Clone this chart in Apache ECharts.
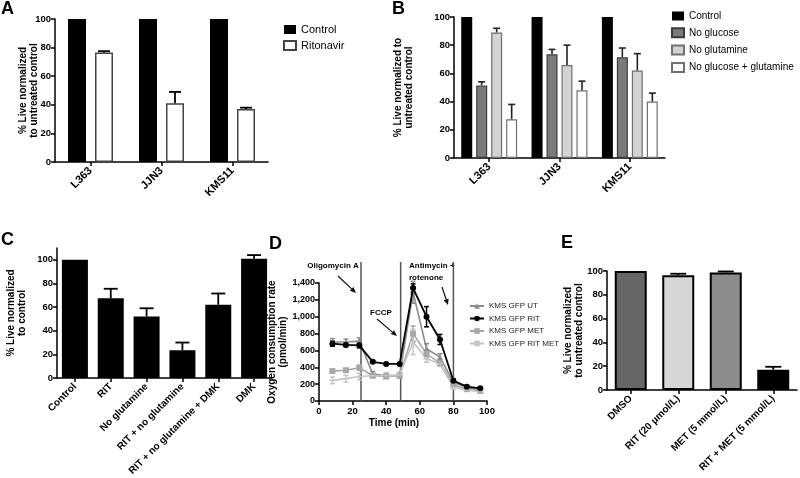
<!DOCTYPE html>
<html><head><meta charset="utf-8">
<script src="https://cdn.jsdelivr.net/npm/echarts@6/dist/echarts.min.js"></script>
<style>html,body{margin:0;padding:0;background:#fff}#c{width:800px;height:478px}</style>
</head><body><div id="c"></div>
<script>
const FONT = "'Liberation Sans', Arial, Helvetica, sans-serif";

// ---------- Panel A ----------
const aCategories = ['L363', 'JJN3', 'KMS11'];
const aControl = [100, 100, 100];
const aRitonavir = [76.5, 41, 37];
const aRitonavirErr = [1, 8, 1];

// ---------- Panel B ----------
const bCategories = ['L363', 'JJN3', 'KMS11'];
const bControl = [100, 100, 100];
const bNoGlucose = [51.5, 73.5, 71.5];
const bNoGlucoseErr = [2.5, 3.5, 6.5];
const bNoGlutamine = [89, 66, 62];
const bNoGlutamineErr = [3, 14, 12];
const bNoBoth = [27.5, 48, 40];
const bNoBothErr = [10.5, 6.5, 6];

// ---------- Panel C ----------
const cCategories = ['Control', 'RIT', 'No glutamine', 'RIT + no glutamine', 'RIT + no glutamine + DMK', 'DMK'];
const cValues = [100, 67.5, 52, 23.5, 62, 101];
const cErr = [0, 8, 7, 6.5, 9.5, 3];

// ---------- Panel D ----------
const dTime = [8, 16, 24, 32, 40, 48, 56, 64, 72, 80, 88, 96];
const dUT = [700, 700, 710, 320, 300, 305, 1290, 620, 520, 220, 160, 130];
const dUTErr = [40, 35, 40, 30, 30, 30, 130, 60, 40, 30, 20, 20];
const dRIT = [680, 665, 660, 465, 440, 440, 1340, 1000, 730, 240, 170, 150];
const dRITErr = [30, 20, 30, 15, 15, 15, 50, 120, 60, 20, 15, 15];
const dMET = [355, 365, 395, 300, 290, 300, 800, 560, 450, 190, 140, 120];
const dMETErr = [20, 20, 30, 20, 20, 20, 90, 40, 30, 20, 15, 15];
const dRITMET = [245, 265, 290, 300, 300, 310, 700, 500, 440, 160, 130, 110];
const dRITMETErr = [40, 40, 40, 20, 30, 30, 150, 40, 30, 20, 15, 15];
const dInjections = [25, 48.6, 80];
const dYTicks = [0, 200, 400, 600, 800, 1000, 1200, 1400];

// ---------- Panel E ----------
const eCategories = ['DMSO', 'RIT (20 \u03bcmol/L)', 'MET (5 mmol/L)', 'RIT + MET (5 mmol/L)'];
const eValues = [100, 96.5, 98.8, 17];
const eErr = [0, 1.2, 0.8, 2.5];
const eColors = ['#666666', '#d6d6d6', '#8c8c8c', '#000000'];

// ---------- helpers ----------
const axisLineStyle = { show: true, lineStyle: { color: '#000', width: 1.5 } };
const tickStyle = { show: true, length: 4, lineStyle: { color: '#000', width: 1.5 } };
const lbl = (size) => ({ color: '#000', fontWeight: 'bold', fontSize: size, fontFamily: FONT });

function catX(gridIndex, cats, rotate, size) {
  return {
    type: 'category', gridIndex, data: cats, boundaryGap: true,
    axisLine: axisLineStyle,
    axisTick: Object.assign({ alignWithLabel: true }, tickStyle),
    axisLabel: Object.assign({ interval: 0, rotate: rotate, margin: 7 }, lbl(size)),
    splitLine: { show: false }
  };
}
function valY(gridIndex, max, ticks, name, gap) {
  return {
    type: 'value', gridIndex, min: 0, max: max,
    axisLine: axisLineStyle, axisTick: Object.assign({ customValues: ticks }, tickStyle),
    axisLabel: Object.assign({ customValues: ticks, margin: 4 }, lbl(9.5)),
    splitLine: { show: false },
    name: name, nameLocation: 'middle', nameGap: gap, nameRotate: 90, nameMoveOverlap: false,
    nameTextStyle: Object.assign({ lineHeight: 10.5 }, lbl(10))
  };
}
function barErr(axisIdx, vals, errs, offset, cap, color, lw) {
  return {
    type: 'custom', xAxisIndex: axisIdx, yAxisIndex: axisIdx, z: 10, silent: true,
    data: vals.map((v, i) => [i, v, errs[i]]),
    renderItem(p, api) {
      const i = api.value(0), v = api.value(1), e = api.value(2);
      if (!e) return null;
      const a = api.coord([i, v]), b = api.coord([i, v + e]);
      const x = a[0] + offset;
      const st = { stroke: color, lineWidth: lw };
      return { type: 'group', children: [
        { type: 'line', shape: { x1: x, y1: a[1], x2: x, y2: b[1] }, style: st },
        { type: 'line', shape: { x1: x - cap / 2, y1: b[1], x2: x + cap / 2, y2: b[1] }, style: st }
      ] };
    }
  };
}
function lineErr(axisIdx, xs, vals, errs, color) {
  return {
    type: 'custom', xAxisIndex: axisIdx, yAxisIndex: axisIdx, z: 3, silent: true,
    data: vals.map((v, i) => [xs[i], v, errs[i]]),
    renderItem(p, api) {
      const t = api.value(0), v = api.value(1), e = api.value(2);
      const a = api.coord([t, v - e]), b = api.coord([t, v + e]);
      const x = a[0], cap = 5;
      const st = { stroke: color, lineWidth: 1.5 };
      return { type: 'group', children: [
        { type: 'line', shape: { x1: x, y1: a[1], x2: x, y2: b[1] }, style: st },
        { type: 'line', shape: { x1: x - cap / 2, y1: b[1], x2: x + cap / 2, y2: b[1] }, style: st },
        { type: 'line', shape: { x1: x - cap / 2, y1: a[1], x2: x + cap / 2, y2: a[1] }, style: st }
      ] };
    }
  };
}
function arrow(x1, y1, x2, y2) {
  const ang = Math.atan2(y2 - y1, x2 - x1), L = 6, W = 2.6;
  const bx = x2 - L * Math.cos(ang), by = y2 - L * Math.sin(ang);
  const px = -Math.sin(ang) * W, py = Math.cos(ang) * W;
  return { type: 'group', children: [
    { type: 'line', shape: { x1, y1, x2: bx, y2: by }, style: { stroke: '#111', lineWidth: 1.2 } },
    { type: 'polygon', shape: { points: [[x2, y2], [bx + px, by + py], [bx - px, by - py]] }, style: { fill: '#111' } }
  ] };
}
function txt(x, y, s, size, weight, extra) {
  return { type: 'text', x, y, style: Object.assign({ text: s, fill: '#000', font: `${weight} ${size}px ${FONT}` }, extra || {}) };
}

const pctTicks = [0, 20, 40, 60, 80, 100];

const option = {
  animation: false,
  backgroundColor: '#fff',
  textStyle: { fontFamily: FONT },
  grid: [
    { left: 55, top: 19, width: 213, height: 143, outerBoundsMode: 'none' },   // A
    { left: 454, top: 17, width: 211, height: 141, outerBoundsMode: 'none' },  // B
    { left: 57, top: 248, width: 215, height: 130, outerBoundsMode: 'none' },  // C
    { left: 319, top: 283, width: 168, height: 118, outerBoundsMode: 'none' }, // D
    { left: 319, top: 262, width: 168, height: 139, outerBoundsMode: 'none' }, // D overlay
    { left: 607, top: 271, width: 190, height: 119, outerBoundsMode: 'none' }  // E
  ],
  xAxis: [
    catX(0, aCategories, 45, 11),
    catX(1, bCategories, 45, 11),
    catX(2, cCategories, 45, 10),
    {
      type: 'value', gridIndex: 3, min: 0, max: 100, interval: 20,
      axisLine: axisLineStyle, axisTick: tickStyle, axisLabel: Object.assign({ margin: 5 }, lbl(9.5)),
      splitLine: { show: false },
      name: 'Time (min)', nameLocation: 'middle', nameGap: 17, nameMoveOverlap: false,
      nameTextStyle: Object.assign({ padding: [0, 18, 0, 0] }, lbl(10))
    },
    { type: 'value', gridIndex: 4, min: 0, max: 100, show: false },
    catX(5, eCategories, 45, 10)
  ],
  yAxis: [
    valY(0, 100, pctTicks, '% Live normalized\nto untreated control', 16),
    valY(1, 100, pctTicks, '% Live normalized to\nuntreated control', 40),
    valY(2, 110, pctTicks, '% Live normalized\nto control', 30),
    Object.assign(valY(3, 1400, dYTicks, 'Oxygen consumption rate\n(pmol/min)', 31), {
      axisLabel: Object.assign({ customValues: dYTicks, margin: 4, formatter: v => v.toLocaleString('en-US') }, lbl(9))
    }),
    { type: 'value', gridIndex: 4, min: 0, max: 1, show: false },
    valY(5, 100, pctTicks, '% Live normalized\nto untreated control', 23)
  ],
  legend: [
    {
      left: 283, top: 24, padding: 0, orient: 'vertical', itemWidth: 12, itemHeight: 9, itemGap: 5, icon: 'rect',
      textStyle: { fontSize: 11, fontFamily: FONT, color: '#000' },
      data: ['Control', 'Ritonavir'], selectedMode: false
    },
    {
      left: 671, top: 11, padding: 0, orient: 'vertical', itemWidth: 12, itemHeight: 9, itemGap: 6.3, icon: 'rect',
      textStyle: { fontSize: 10, fontFamily: FONT, color: '#000' },
      data: ['Control', 'No glucose', 'No glutamine', 'No glucose + glutamine'], selectedMode: false
    },
    {
      left: 469, top: 302, padding: 0, orient: 'vertical', itemWidth: 14, itemHeight: 7, itemGap: 4.5,
      textStyle: { fontSize: 8, fontFamily: FONT, color: '#222', lineHeight: 8 },
      data: ['KMS GFP UT', 'KMS GFP RIT', 'KMS GFP MET', 'KMS GFP RIT MET'], selectedMode: false
    }
  ],
  series: [
    // A
    { type: 'bar', name: 'Control', xAxisIndex: 0, yAxisIndex: 0, data: aControl, barWidth: 18, barGap: '50%',
      itemStyle: { color: '#000' } },
    { type: 'bar', name: 'Ritonavir', xAxisIndex: 0, yAxisIndex: 0, data: aRitonavir, barWidth: 18, barGap: '50%',
      itemStyle: { color: '#fff', borderColor: '#444', borderWidth: 1.5 } },
    barErr(0, aRitonavir, aRitonavirErr, 13.5, 12, '#000', 1.8),
    // B
    { type: 'bar', name: 'Control', xAxisIndex: 1, yAxisIndex: 1, data: bControl, barWidth: 11, barGap: '36%',
      itemStyle: { color: '#000' } },
    { type: 'bar', name: 'No glucose', xAxisIndex: 1, yAxisIndex: 1, data: bNoGlucose, barWidth: 11, barGap: '36%',
      itemStyle: { color: '#7a7a7a', borderColor: '#3c3c3c', borderWidth: 1.2 } },
    { type: 'bar', name: 'No glutamine', xAxisIndex: 1, yAxisIndex: 1, data: bNoGlutamine, barWidth: 11, barGap: '36%',
      itemStyle: { color: '#d3d3d3', borderColor: '#707070', borderWidth: 1.2 } },
    { type: 'bar', name: 'No glucose + glutamine', xAxisIndex: 1, yAxisIndex: 1, data: bNoBoth, barWidth: 11, barGap: '36%',
      itemStyle: { color: '#fff', borderColor: '#707070', borderWidth: 1.2 } },
    barErr(1, bNoGlucose, bNoGlucoseErr, -7.5, 7, '#222', 1.6),
    barErr(1, bNoGlutamine, bNoGlutamineErr, 7.5, 7, '#222', 1.6),
    barErr(1, bNoBoth, bNoBothErr, 22.5, 7, '#222', 1.6),
    // C
    { type: 'bar', name: 'C', xAxisIndex: 2, yAxisIndex: 2, data: cValues, barWidth: 26,
      itemStyle: { color: '#000' } },
    barErr(2, cValues, cErr, 0, 14, '#000', 1.8),
    // D
    { type: 'line', name: 'KMS GFP UT', xAxisIndex: 3, yAxisIndex: 3, data: dTime.map((t, i) => [t, dUT[i]]),
      symbol: 'triangle', symbolSize: 6, lineStyle: { color: '#8c8c8c', width: 1.6 }, itemStyle: { color: '#8c8c8c' }, z: 4 },
    { type: 'line', name: 'KMS GFP RIT', xAxisIndex: 3, yAxisIndex: 3, data: dTime.map((t, i) => [t, dRIT[i]]),
      symbol: 'circle', symbolSize: 6, lineStyle: { color: '#000', width: 1.8 }, itemStyle: { color: '#000' }, z: 6 },
    { type: 'line', name: 'KMS GFP MET', xAxisIndex: 3, yAxisIndex: 3, data: dTime.map((t, i) => [t, dMET[i]]),
      symbol: 'rect', symbolSize: 6, lineStyle: { color: '#a8a8a8', width: 1.6 }, itemStyle: { color: '#a8a8a8' }, z: 4 },
    { type: 'line', name: 'KMS GFP RIT MET', xAxisIndex: 3, yAxisIndex: 3, data: dTime.map((t, i) => [t, dRITMET[i]]),
      symbol: 'rect', symbolSize: [6, 1.5], lineStyle: { color: '#c6c6c6', width: 1.6 }, itemStyle: { color: '#c6c6c6' }, z: 4 },
    lineErr(3, dTime, dUT, dUTErr, '#8c8c8c'),
    lineErr(3, dTime, dRIT, dRITErr, '#000'),
    lineErr(3, dTime, dMET, dMETErr, '#a8a8a8'),
    lineErr(3, dTime, dRITMET, dRITMETErr, '#c6c6c6'),
    {
      type: 'custom', xAxisIndex: 4, yAxisIndex: 4, silent: true, z: 2,
      data: dInjections.map(t => [t]),
      renderItem(p, api) {
        const a = api.coord([api.value(0), 0]), b = api.coord([api.value(0), 1]);
        return { type: 'line', shape: { x1: a[0], y1: a[1], x2: b[0], y2: b[1] }, style: { stroke: '#555', lineWidth: 1.5 } };
      }
    },
    // E
    { type: 'bar', name: 'E', xAxisIndex: 5, yAxisIndex: 5, barWidth: 32,
      data: eValues.map((v, i) => ({ value: v, itemStyle: { color: eColors[i] } })),
      itemStyle: { borderColor: '#000', borderWidth: 2 } },
    barErr(5, eValues, eErr, 0, 16, '#000', 1.8)
  ],
  graphic: [
    txt(1, 0, 'A', 18, 'bold'),
    txt(392, 0, 'B', 18, 'bold'),
    txt(1, 231, 'C', 18, 'bold'),
    txt(269, 235, 'D', 18, 'bold'),
    txt(561, 234, 'E', 18, 'bold'),
    txt(333, 266, 'Oligomycin A', 8, 'bold', { align: 'center', verticalAlign: 'middle' }),
    txt(381, 313, 'FCCP', 8, 'bold', { align: 'center', verticalAlign: 'middle' }),
    txt(409, 266, 'Antimycin +', 8, 'bold', { align: 'left', verticalAlign: 'middle' }),
    txt(409, 278, 'rotenone', 8, 'bold', { align: 'left', verticalAlign: 'middle' }),
    arrow(338, 276, 356, 293),
    arrow(377, 319, 397, 336),
    arrow(442, 287, 448, 305)
  ]
};

const chart = echarts.init(document.getElementById('c'), null, { renderer: 'canvas' });
chart.setOption(option);
</script>
</body></html>
